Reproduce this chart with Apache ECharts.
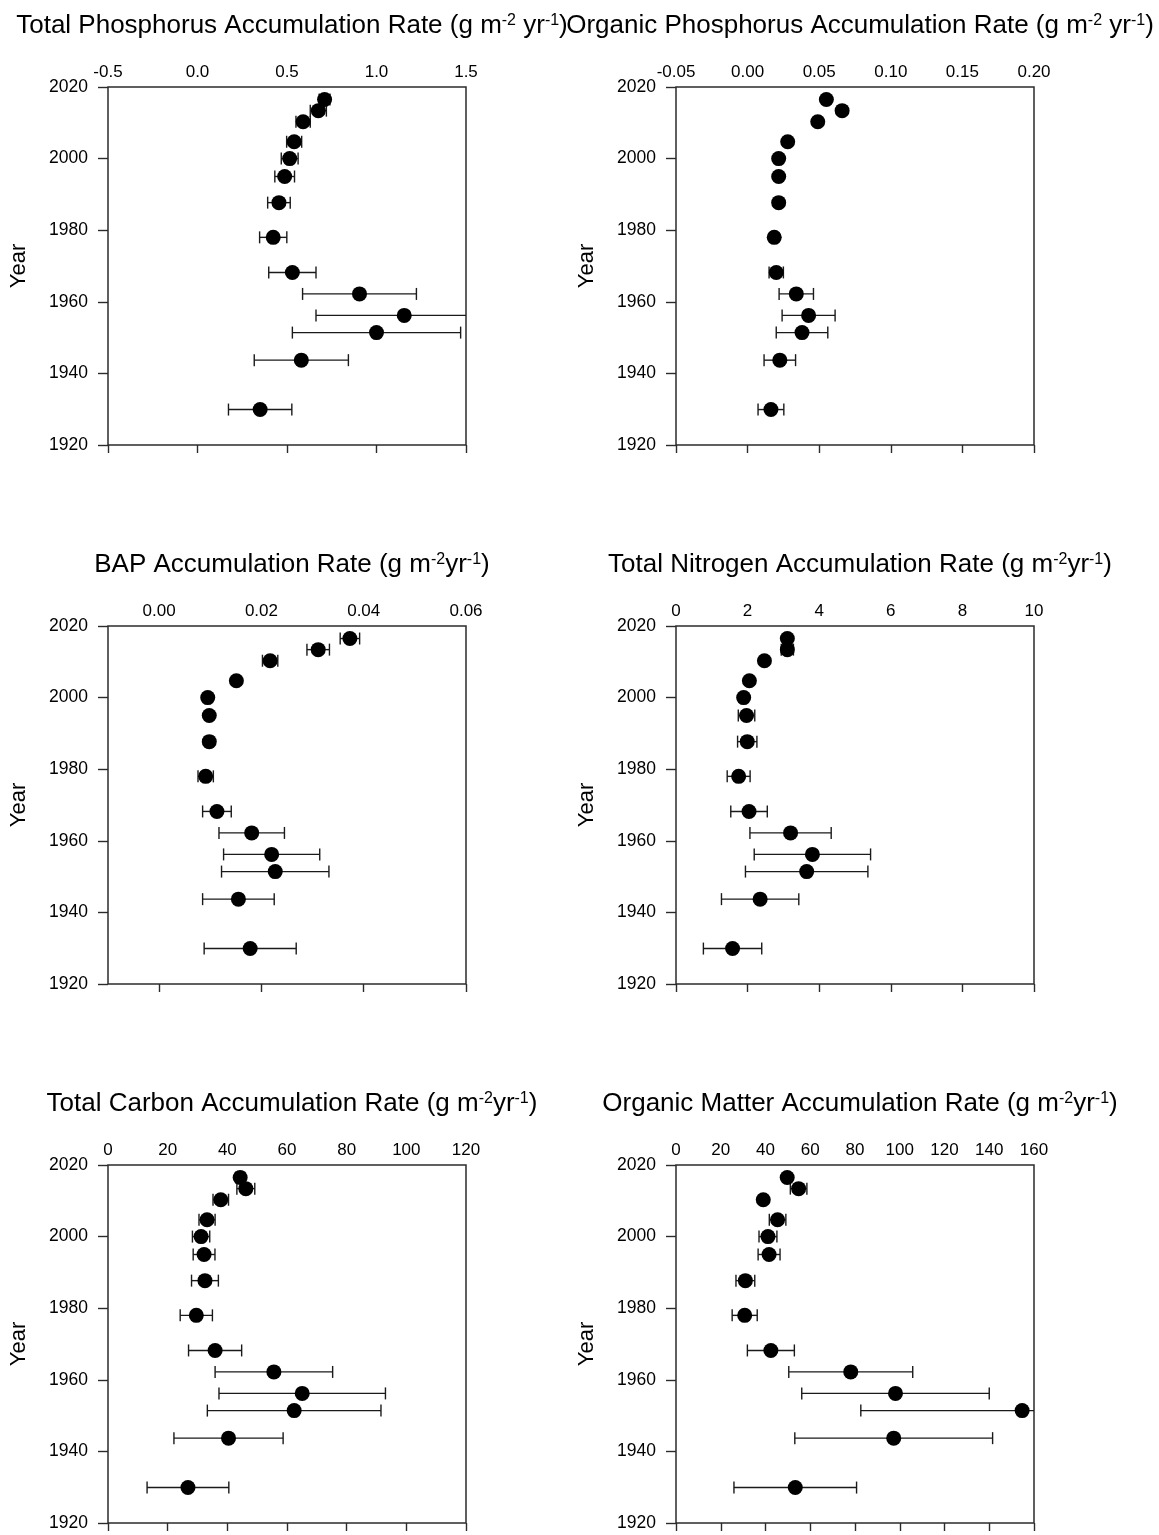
<!DOCTYPE html>
<html>
<head>
<meta charset="utf-8">
<script src="https://cdn.jsdelivr.net/npm/echarts@6/dist/echarts.min.js"></script>
<style>
  html, body { margin: 0; padding: 0; background: #ffffff; }
  #chart { width: 1159px; height: 1535px; }
</style>
</head>
<body>
<div id="chart"></div>
<script>
// Sediment core dates (years AD), shared by every panel
const years = [2016.5, 2013.4, 2010.3, 2004.7, 2000.0, 1995.0, 1987.7, 1978.0, 1968.2, 1962.2, 1956.2, 1951.4, 1943.7, 1929.9];

// Total phosphorus accumulation rate and its error
const tpRate = [0.71, 0.675, 0.59, 0.54, 0.515, 0.487, 0.455, 0.423, 0.53, 0.905, 1.155, 1.0, 0.58, 0.35];
const tpErr  = [0.03, 0.045, 0.04, 0.042, 0.047, 0.055, 0.063, 0.076, 0.132, 0.318, 0.493, 0.47, 0.263, 0.177];

// Organic phosphorus accumulation rate and its error
const opRate = [0.055, 0.066, 0.049, 0.028, 0.0217, 0.0217, 0.0217, 0.0186, 0.020, 0.034, 0.0426, 0.038, 0.0225, 0.0163];
const opErr  = [0.002, 0.002, 0.002, 0.002, 0.002, 0.002, 0.002, 0.002, 0.005, 0.012, 0.0185, 0.018, 0.011, 0.009];

// Bioavailable phosphorus accumulation rate and its error
const bapRate = [0.0373, 0.0311, 0.0217, 0.0151, 0.0095, 0.0098, 0.0098, 0.0091, 0.0113, 0.0181, 0.0220, 0.0227, 0.0155, 0.0178];
const bapErr  = [0.0019, 0.0022, 0.0015, 0.0005, 0.0005, 0.0005, 0.0008, 0.0015, 0.0028, 0.0064, 0.0094, 0.0105, 0.0070, 0.0090];

// Total nitrogen accumulation rate and its error
const tnRate = [3.11, 3.11, 2.47, 2.05, 1.89, 1.97, 1.99, 1.75, 2.04, 3.20, 3.81, 3.65, 2.35, 1.58];
const tnErr  = [0.05, 0.17, 0.05, 0.05, 0.05, 0.23, 0.27, 0.32, 0.51, 1.135, 1.625, 1.71, 1.08, 0.815];

// Total carbon accumulation rate and its error
const tcRate = [44.3, 46.2, 37.8, 33.2, 31.2, 32.2, 32.5, 29.6, 35.9, 55.6, 65.1, 62.4, 40.4, 26.8];
const tcErr  = [1.5, 3.0, 2.6, 2.7, 2.9, 3.65, 4.5, 5.4, 8.9, 19.7, 27.9, 29.1, 18.3, 13.7];

// Organic matter accumulation rate and its error
const omRate = [49.7, 54.8, 39.0, 45.4, 41.1, 41.6, 31.0, 30.7, 42.4, 78.1, 98.1, 154.7, 97.3, 53.3];
const omErr  = [1.0, 3.7, 1.0, 3.7, 4.0, 4.9, 4.2, 5.6, 10.5, 27.7, 41.9, 72.1, 44.2, 27.4];

// Year axis
const yearMin = 1920, yearMax = 2020, yearStep = 20;

// Panel titles (rich text: {s|...} is a superscript)
const titles = [
  'Total Phosphorus Accumulation Rate (g m{s|-2} yr{s|-1})',
  'Organic Phosphorus Accumulation Rate (g m{s|-2} yr{s|-1})',
  'BAP Accumulation Rate (g m{s|-2}yr{s|-1})',
  'Total Nitrogen Accumulation Rate (g m{s|-2}yr{s|-1})',
  'Total Carbon Accumulation Rate (g m{s|-2}yr{s|-1})',
  'Organic Matter Accumulation Rate (g m{s|-2}yr{s|-1})'
];

// Rate axis ranges; ticks lists the labelled values
const rateAxes = [
  { min: -0.5,  max: 1.5,  ticks: [-0.5, 0.0, 0.5, 1.0, 1.5], dec: 1 },
  { min: -0.05, max: 0.20, ticks: [-0.05, 0.00, 0.05, 0.10, 0.15, 0.20], dec: 2 },
  { min: -0.01, max: 0.06, ticks: [0.00, 0.02, 0.04, 0.06], dec: 2 },
  { min: 0,     max: 10,   ticks: [0, 2, 4, 6, 8, 10], dec: 0 },
  { min: 0,     max: 120,  ticks: [0, 20, 40, 60, 80, 100, 120], dec: 0 },
  { min: 0,     max: 160,  ticks: [0, 20, 40, 60, 80, 100, 120, 140, 160], dec: 0 }
];

const rates  = [tpRate, opRate, bapRate, tnRate, tcRate, omRate];
const errors = [tpErr, opErr, bapErr, tnErr, tcErr, omErr];

// Layout of the 2 x 3 panel grid
const FONT = 'Liberation Sans, Arial, Helvetica, sans-serif';
const colLeft = [108, 676];
const rowTop = [87, 626, 1165];
const plotSize = 358;
const ink = '#000000';
const frame = '#2b2b2b';

function errorBarItem(params, api) {
  const x = api.value(0), y = api.value(1), e = api.value(2);
  const lo = api.coord([x - e, y]);
  const hi = api.coord([x + e, y]);
  const cap = 6;
  const style = { stroke: '#1a1a1a', lineWidth: 1.4 };
  return {
    type: 'group',
    children: [
      { type: 'line', shape: { x1: lo[0], y1: lo[1], x2: hi[0], y2: hi[1] }, style: style },
      { type: 'line', shape: { x1: lo[0], y1: lo[1] - cap, x2: lo[0], y2: lo[1] + cap }, style: style },
      { type: 'line', shape: { x1: hi[0], y1: hi[1] - cap, x2: hi[0], y2: hi[1] + cap }, style: style }
    ]
  };
}

const option = {
  backgroundColor: '#ffffff',
  animation: false,
  title: [], grid: [], xAxis: [], yAxis: [], series: []
};

for (let i = 0; i < 6; i++) {
  const left = colLeft[i % 2];
  const top = rowTop[Math.floor(i / 2)];
  const ax = rateAxes[i];
  const fmt = v => Number(v).toFixed(ax.dec);

  option.title.push({
    text: titles[i],
    left: left + plotSize / 2,
    top: top - 79,
    textAlign: 'center',
    textStyle: {
      fontFamily: FONT, fontSize: 26, fontWeight: 'normal', color: ink,
      rich: { s: { fontFamily: FONT, fontSize: 16, color: ink, verticalAlign: 'top', lineHeight: 14 } }
    }
  });

  option.grid.push({
    left: left, top: top, width: plotSize, height: plotSize,
    show: true, borderColor: frame, borderWidth: 1.5, backgroundColor: 'transparent'
  });

  // Top axis carries the labels
  option.xAxis.push({
    type: 'value', gridIndex: i, position: 'top',
    min: ax.min, max: ax.max,
    axisLine: { show: false, onZero: false },
    axisTick: { show: false },
    splitLine: { show: false },
    axisLabel: {
      customValues: ax.ticks, formatter: fmt,
      fontFamily: FONT, fontSize: 17, color: ink, margin: 6
    }
  });
  // Bottom axis carries the tick marks
  option.xAxis.push({
    type: 'value', gridIndex: i, position: 'bottom',
    min: ax.min, max: ax.max,
    axisLine: { show: false, onZero: false },
    axisLabel: { show: false },
    splitLine: { show: false },
    axisTick: { show: true, customValues: ax.ticks, length: 8, lineStyle: { color: frame, width: 1.4 } }
  });

  option.yAxis.push({
    type: 'value', gridIndex: i, position: 'left',
    min: yearMin, max: yearMax, interval: yearStep,
    name: 'Year', nameLocation: 'middle', nameRotate: 90, nameGap: 78,
    nameTextStyle: { fontFamily: FONT, fontSize: 22, color: ink },
    axisLine: { show: false, onZero: false },
    splitLine: { show: false },
    axisTick: { show: true, length: 10, lineStyle: { color: frame, width: 1.4 } },
    axisLabel: { fontFamily: FONT, fontSize: 17.5, color: ink, margin: 20, formatter: v => String(v) }
  });

  const r = rates[i], e = errors[i];
  option.series.push({
    type: 'custom', name: 'error' + i,
    xAxisIndex: 2 * i, yAxisIndex: i,
    clip: true, z: 2,
    renderItem: errorBarItem,
    encode: { x: 0, y: 1 },
    data: years.map((y, k) => [r[k], y, e[k]])
  });
  option.series.push({
    type: 'scatter', name: 'rate' + i,
    xAxisIndex: 2 * i, yAxisIndex: i,
    symbol: 'circle', symbolSize: 15, clip: false, z: 3,
    itemStyle: { color: '#000000', opacity: 1 },
    data: years.map((y, k) => [r[k], y])
  });
}

const chart = echarts.init(document.getElementById('chart'), null, { renderer: 'canvas' });
chart.setOption(option);
</script>
</body>
</html>
